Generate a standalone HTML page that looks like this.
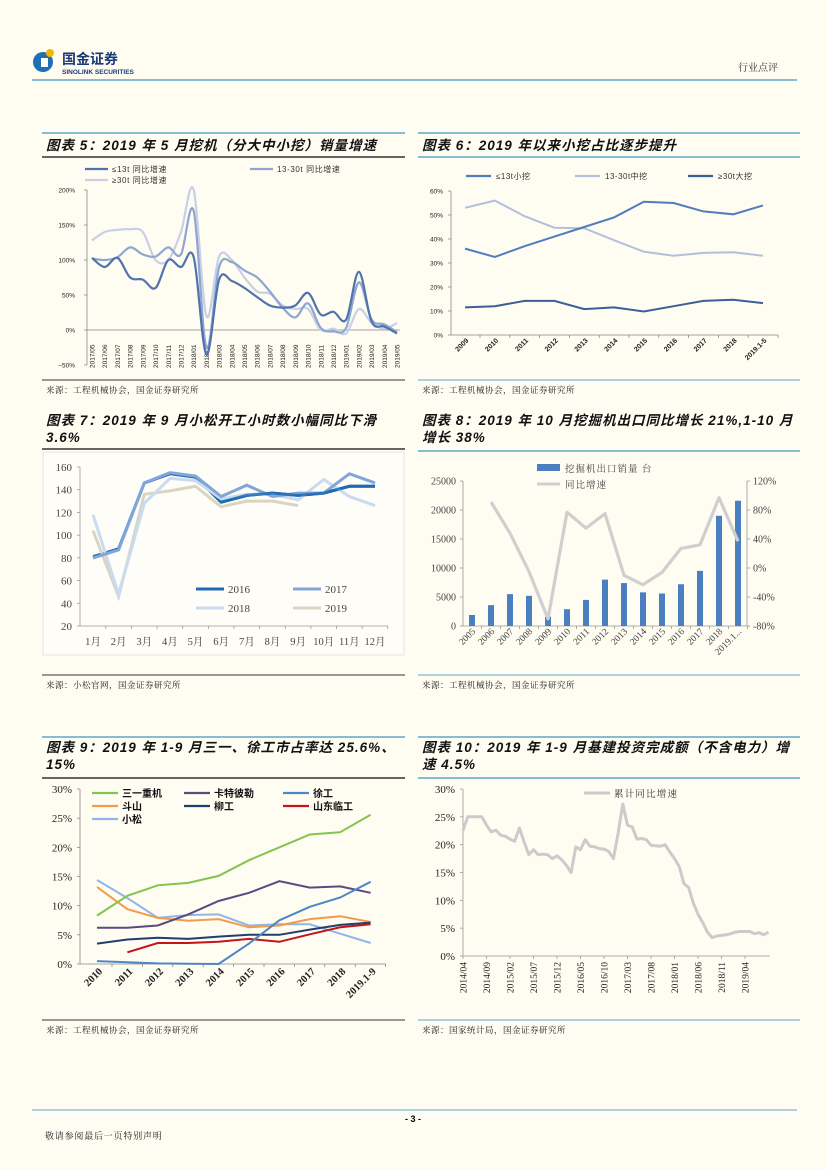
<!DOCTYPE html>
<html><head><meta charset="utf-8">
<style>
html,body{margin:0;padding:0;background:#fffcf2;}
#page{position:relative;width:827px;height:1170px;background:#fffcf2;overflow:hidden;}
svg{position:absolute;left:0;top:0;}
text{font-family:"Liberation Sans","Noto Sans CJK SC",sans-serif;}
.serif{font-family:"Liberation Serif","Noto Serif CJK SC",serif;}
.ttl{font-size:13.5px;font-weight:bold;font-style:italic;fill:#111;letter-spacing:1px;}
.src{font-size:8.5px;fill:#222;letter-spacing:0.5px;font-family:"Liberation Serif","Noto Serif CJK SC",serif;}
</style></head>
<body>
<div id="page">
<svg id="s" width="827" height="1170" viewBox="0 0 827 1170">
<g>
 <circle cx="43" cy="62" r="10" fill="#1f6fb5"/>
 <rect x="41" y="58" width="7" height="9" fill="#fff"/>
 <circle cx="50" cy="53" r="4" fill="#f5b800"/>
 <text x="62" y="64" font-size="14" font-weight="bold" fill="#1a3a78">国金证券</text>
 <text x="62" y="74" font-size="6.5" font-weight="bold" fill="#1a3a78">SINOLINK SECURITIES</text>
 <text x="738" y="71" font-size="10" fill="#333" class="serif">行业点评</text>
 <line x1="32" y1="80" x2="797" y2="80" stroke="#5aaac8" stroke-width="1.5"/>
</g>
<g>
 <line x1="32" y1="1110" x2="797" y2="1110" stroke="#5aaac8" stroke-width="1"/>
 <text x="413" y="1122" font-size="9" font-weight="bold" text-anchor="middle">- 3 -</text>
 <text x="45" y="1139" font-size="9" class="serif" fill="#222" letter-spacing="0.8">敬请参阅最后一页特别声明</text>
</g>
</svg>
</div>
<script>
// ---------- DATA ----------
const c5Cats=["2017/05","2017/06","2017/07","2017/08","2017/09","2017/10","2017/11","2017/12","2018/01","2018/02","2018/03","2018/04","2018/05","2018/06","2018/07","2018/08","2018/09","2018/10","2018/11","2018/12","2019/01","2019/02","2019/03","2019/04","2019/05"];
const c5Small=[103,90,103,75,72,60,100,90,104,-35,72,70,60,47,35,32,35,53,22,26,15,83,12,5,-5];
const c5Mid=[102,100,104,118,108,105,118,108,170,-25,90,97,85,75,55,32,18,38,3,-2,3,68,15,8,-3];
const c5Large=[128,140,143,144,140,100,100,140,200,20,105,100,75,55,52,35,30,30,0,2,-5,30,10,2,10];
const c5Ticks=[200,150,100,50,0,-50];

const c6Cats=["2009","2010","2011","2012","2013","2014","2015","2016","2017","2018","2019.1-5"];
const c6Small=[36,32.5,37,41,45,49,55.5,55,51.5,50.3,54];
const c6Mid=[53,56,49.5,44.7,44.5,39.5,34.7,33,34.2,34.5,33];
const c6Large=[11.5,12,14.2,14.2,10.8,11.5,9.8,12,14.2,14.7,13.3];
const c6Ticks=[0,10,20,30,40,50,60];

const c7Cats=["1月","2月","3月","4月","5月","6月","7月","8月","9月","10月","11月","12月"];
const c7Y2016=[81,88,146,154,151,129,135,137,135,137,143,143];
const c7Y2017=[80,87,146,155,152,134,144,134,137,137,154,146];
const c7Y2018=[118,48,128,150,148,132,136,136,131,149,134,126];
const c7Y2019=[104,46,136,139,143,125,130,130,126];
const c7Ticks=[20,40,60,80,100,120,140,160];

const c8Cats=["2005","2006","2007","2008","2009","2010","2011","2012","2013","2014","2015","2016","2017","2018","2019.1..."];
const c8Units=[1900,3600,5500,5200,1600,2900,4500,8000,7400,5800,5600,7200,9500,19000,21600];
const c8Growth=[null,91,48,-5,-70,77,55,75,-10,-23,-6,27,32,97,37];
const c8LeftTicks=[0,5000,10000,15000,20000,25000];
const c8RightTicks=[-80,-40,0,40,80,120];

const c9Cats=["2010","2011","2012","2013","2014","2015","2016","2017","2018","2019.1-9"];
const c9Sany=[8.3,11.7,13.5,13.9,15.1,17.8,20,22.2,22.6,25.6];
const c9Cat=[6.2,6.2,6.6,8.5,10.8,12.2,14.2,13.1,13.3,12.2];
const c9Xcmg=[0.5,0.3,0.1,0.05,0,3.5,7.5,9.8,11.4,14.1];
const c9Doosan=[13.2,9.4,7.9,7.4,7.7,6.3,6.6,7.7,8.2,7.2];
const c9Liugong=[3.5,4.2,4.5,4.3,4.7,5,5,5.9,6.7,7.1];
const c9Sdlg=[null,2,3.6,3.6,3.8,4.3,3.8,5.1,6.3,6.8];
const c9Komatsu=[14.4,11.3,7.9,8.4,8.5,6.6,6.8,6.8,5.2,3.6];
const c9Ticks=[0,5,10,15,20,25,30];

const c10Labels=["2014/04","2014/09","2015/02","2015/07","2015/12","2016/05","2016/10","2017/03","2017/08","2018/01","2018/06","2018/11","2019/04"];
const c10Values=[22.5,25,25,25,25,23.5,22.3,22.6,21.7,21.5,21,20.6,23,20.5,18.2,19.1,18.2,18.3,18.2,17.5,18.0,17.3,16.3,15,19.6,19.1,20.9,19.7,19.6,19.3,19.2,18.8,17.5,22,27.3,23.5,23.2,21,21.1,20.9,19.9,19.8,19.7,20,18.7,17.5,16.1,13,12.3,9.5,7.5,6,4.3,3.3,3.6,3.7,3.8,4.0,4.3,4.4,4.4,4.4,4.0,4.2,3.8,4.3];
const c10Ticks=[0,5,10,15,20,25,30];

// ---------- HELPERS ----------
const NS="http://www.w3.org/2000/svg";
const S=document.getElementById('s');
function mk(parent,tag,attrs,txt){const e=document.createElementNS(NS,tag);for(const k in attrs)e.setAttribute(k,attrs[k]);if(txt!==undefined)e.textContent=txt;parent.appendChild(e);return e;}
function grp(){return mk(S,'g',{});}
function pathFrom(vals,xf,yf){let d='',pen=false;vals.forEach((v,i)=>{if(v===null||v===undefined){pen=false;return;}d+=(pen?'L':'M')+xf(i).toFixed(1)+' '+yf(v).toFixed(1)+' ';pen=true;});return d;}
function smoothFrom(vals,xf,yf){const p=vals.map((v,i)=>[xf(i),yf(v)]);let d='M'+p[0][0]+' '+p[0][1];for(let i=0;i<p.length-1;i++){const p0=p[i-1]||p[i],p1=p[i],p2=p[i+1],p3=p[i+2]||p2;const c1x=p1[0]+(p2[0]-p0[0])/6,c1y=p1[1]+(p2[1]-p0[1])/6,c2x=p2[0]-(p3[0]-p1[0])/6,c2y=p2[1]-(p3[1]-p1[1])/6;d+=` C${c1x.toFixed(1)} ${c1y.toFixed(1)} ${c2x.toFixed(1)} ${c2y.toFixed(1)} ${p2[0].toFixed(1)} ${p2[1].toFixed(1)}`;}return d;}
function hl(g,x1,x2,y,c,w){return mk(g,'line',{x1:x1,x2:x2,y1:y,y2:y,stroke:c,'stroke-width':w});}
function panel(x1,x2,topY,lines,titleY,ruleY,ruleColor,srcY,srcLineColor,srcText,name){
  const g=grp();
  
  
  if(topY)hl(g,x1,x2,topY,'#5aaac8',1.5);
  lines.forEach((t,i)=>{const e=mk(g,'text',{x:x1+4,y:titleY+i*17,class:'ttl'},t);
    
    });
  hl(g,x1,x2,ruleY,ruleColor,1.5);
  hl(g,x1,x2,srcY,srcLineColor,1);
  const s=mk(g,'text',{x:x1+4,y:srcY+13,class:'src'},srcText);
  
  
  return g;
}

// ---------- PANELS ----------
panel(42,405,133,["图表 5：2019 年 5 月挖机（分大中小挖）销量增速"],150,157,'#333',380,'#333',"来源：工程机械协会，国金证券研究所",'panel-chart-5');
panel(418,800,133,["图表 6：2019 年以来小挖占比逐步提升"],150,157,'#5aaac8',380,'#5aaac8',"来源：工程机械协会，国金证券研究所",'panel-chart-6');
panel(42,405,0,["图表 7：2019 年 9 月小松开工小时数小幅同比下滑","3.6%"],425,449,'#333',675,'#333',"来源：小松官网，国金证券研究所",'panel-chart-7');
panel(418,800,0,["图表 8：2019 年 10 月挖掘机出口同比增长 21%,1-10 月","增长 38%"],425,451,'#5aaac8',675,'#5aaac8',"来源：工程机械协会，国金证券研究所",'panel-chart-8');
panel(42,405,737,["图表 9：2019 年 1-9 月三一、徐工市占率达 25.6%、","15%"],752,778,'#333',1020,'#333',"来源：工程机械协会，国金证券研究所",'panel-chart-9');
panel(418,800,737,["图表 10：2019 年 1-9 月基建投资完成额（不含电力）增","速 4.5%"],752,778,'#5aaac8',1020,'#5aaac8',"来源：国家统计局，国金证券研究所",'panel-chart-10');

// ---------- CHART 5 ----------
(function(){
 const g=grp();
 const x=i=>92+i*(397-92)/(c5Cats.length-1), y=v=>330-v*0.7;
 mk(g,'line',{x1:87,x2:87,y1:190,y2:365,stroke:'#888','stroke-width':0.8});
 mk(g,'line',{x1:87,x2:400,y1:y(0),y2:y(0),stroke:'#888','stroke-width':0.8});
 c5Ticks.forEach(t=>{const e=mk(g,'text',{x:75,y:y(t)+2.5,'font-size':6.5,'text-anchor':'end',fill:'#222'},(t<0?'−':'')+Math.abs(t)+'%');
  
  mk(g,'line',{x1:84,x2:87,y1:y(t),y2:y(t),stroke:'#888','stroke-width':0.8});});
 c5Cats.forEach((c,i)=>{const e=mk(g,'text',{transform:`translate(${x(i)+2.5},368) rotate(-90)`,'font-size':6.5,fill:'#222'},c);
  });
 const ser=[[c5Large,'#c7d1e6','series-30t-plus'],[c5Mid,'#8ea6d0','series-13-30t'],[c5Small,'#4f73ad','series-13t-under']];
 ser.forEach(s=>{const p=mk(g,'path',{d:smoothFrom(s[0],x,y),fill:'none',stroke:s[1],'stroke-width':2.2});
  });
 const leg=[[85,169,'#4f73ad','≤13t 同比增速'],[250,169,'#8ea6d0','13-30t 同比增速'],[85,180,'#c7d1e6','≥30t 同比增速']];
 leg.forEach(l=>{const lg=mk(g,'g',{});
  hl(lg,l[0],l[0]+23,l[1],l[2],2.2);mk(lg,'text',{x:l[0]+27,y:l[1]+3,'font-size':8,fill:'#333','letter-spacing':0.6},l[3]);});
})();

// ---------- CHART 6 ----------
(function(){
 const g=grp();
 const x=i=>465+i*29.8, y=v=>335-v*2.4;
 mk(g,'line',{x1:451,x2:451,y1:191,y2:335,stroke:'#888','stroke-width':0.8});
 mk(g,'line',{x1:451,x2:778,y1:335,y2:335,stroke:'#888','stroke-width':0.8});
 c6Ticks.forEach(t=>{const e=mk(g,'text',{x:443,y:y(t)+2.5,'font-size':6.5,'text-anchor':'end',fill:'#222'},t+'%');
  
  mk(g,'line',{x1:448,x2:451,y1:y(t),y2:y(t),stroke:'#888','stroke-width':0.8});});
 c6Cats.forEach((c,i)=>{mk(g,'line',{x1:x(i)+15,x2:x(i)+15,y1:335,y2:338,stroke:'#888','stroke-width':0.8});
  const e=mk(g,'text',{transform:`translate(${x(i)+4},341) rotate(-45)`,'font-size':7,'font-weight':'bold','text-anchor':'end',fill:'#222'},c);
  });
 const ser=[[c6Mid,'#b2c0da','series-13-30t-mid'],[c6Small,'#4f7dbd','series-13t-small'],[c6Large,'#3b5f99','series-30t-large']];
 ser.forEach(s=>{const p=mk(g,'path',{d:pathFrom(s[0],x,y),fill:'none',stroke:s[1],'stroke-width':2});
  });
 const leg=[[466,'#4f7dbd','≤13t小挖'],[575,'#b2c0da','13-30t中挖'],[688,'#3b5f99','≥30t大挖']];
 leg.forEach(l=>{const lg=mk(g,'g',{});
  hl(lg,l[0],l[0]+25,176,l[1],2.2);mk(lg,'text',{x:l[0]+30,y:179,'font-size':8,fill:'#333','letter-spacing':0.5},l[2]);});
})();

// ---------- CHART 7 ----------
(function(){
 const g=grp();
 mk(g,'rect',{x:43,y:452,width:361,height:203,fill:'#fffdf7',stroke:'#ddd','stroke-width':0.8});
 const x=i=>93+i*(375-93)/11, y=v=>626-(v-20)*(159/140);
 mk(g,'line',{x1:80,x2:80,y1:467,y2:626,stroke:'#999','stroke-width':0.8});
 mk(g,'line',{x1:80,x2:388,y1:626,y2:626,stroke:'#999','stroke-width':0.8});
 c7Ticks.forEach(t=>{const e=mk(g,'text',{x:72,y:y(t)+4,'font-size':11,'text-anchor':'end',fill:'#444',class:'serif'},t);
  
  mk(g,'line',{x1:77,x2:80,y1:y(t),y2:y(t),stroke:'#999','stroke-width':0.8});});
 c7Cats.forEach((c,i)=>{mk(g,'line',{x1:x(i)+12.8,x2:x(i)+12.8,y1:626,y2:629,stroke:'#999','stroke-width':0.8});
  const e=mk(g,'text',{x:x(i),y:645,'font-size':10.5,'text-anchor':'middle',fill:'#444',class:'serif'},c);
  });
 const p16=mk(g,'path',{d:pathFrom(c7Y2016,x,y),fill:'none',stroke:'#1f6bb5','stroke-width':3});
 
 [[c7Y2019,'#d9d5c3','series-2019'],[c7Y2018,'#c8dbf0','series-2018'],[c7Y2017,'#80a7d8','series-2017']].forEach(s=>{
  const p=mk(g,'path',{d:pathFrom(s[0],x,y),fill:'none',stroke:s[1],'stroke-width':3});
  });
 const tail=c7Y2016.map((v,i)=>i>=5?v:null);
 const pt=mk(g,'path',{d:pathFrom(tail,x,y),fill:'none',stroke:'#1f6bb5','stroke-width':3,opacity:0.85});
 
 const leg=[[196,589,'#1f6bb5','2016'],[293,589,'#80a7d8','2017'],[196,608,'#c8dbf0','2018'],[293,608,'#d9d5c3','2019']];
 leg.forEach(l=>{const lg=mk(g,'g',{});
  hl(lg,l[0],l[0]+28,l[1],l[2],3);mk(lg,'text',{x:l[0]+32,y:l[1]+4,'font-size':11,fill:'#444',class:'serif'},l[3]);});
})();

// ---------- CHART 8 ----------
(function(){
 const g=grp();
 const x=i=>472+i*(738-472)/14, yL=v=>626-v*(145/25000), yR=v=>626-(v+80)*(145/200);
 mk(g,'line',{x1:463,x2:463,y1:481,y2:626,stroke:'#999','stroke-width':0.8});
 mk(g,'line',{x1:747,x2:747,y1:481,y2:626,stroke:'#999','stroke-width':0.8});
 mk(g,'line',{x1:463,x2:747,y1:626,y2:626,stroke:'#999','stroke-width':0.8});
 c8LeftTicks.forEach(t=>{const e=mk(g,'text',{x:456,y:yL(t)+3.5,'font-size':10,'text-anchor':'end',fill:'#444',class:'serif'},t);
  
  mk(g,'line',{x1:460,x2:463,y1:yL(t),y2:yL(t),stroke:'#999','stroke-width':0.8});});
 c8RightTicks.forEach(t=>{const e=mk(g,'text',{x:753,y:yR(t)+3.5,'font-size':10,fill:'#444',class:'serif'},t+'%');
  
  mk(g,'line',{x1:747,x2:750,y1:yR(t),y2:yR(t),stroke:'#999','stroke-width':0.8});});
 c8Cats.forEach((c,i)=>{mk(g,'line',{x1:x(i)+9.5,x2:x(i)+9.5,y1:626,y2:629,stroke:'#999','stroke-width':0.8});
  const e=mk(g,'text',{transform:`translate(${x(i)+4},632) rotate(-45)`,'font-size':9.5,'text-anchor':'end',fill:'#444',class:'serif'},c);
  });
 c8Units.forEach((v,i)=>{const b=mk(g,'rect',{x:x(i)-3,y:yL(v),width:6,height:626-yL(v),fill:'#4a7fc1'});
  });
 const p=mk(g,'path',{d:pathFrom(c8Growth,x,yR),fill:'none',stroke:'#cfcfcf','stroke-width':3.2,'stroke-linejoin':'round'});
 
 const l1=mk(g,'g',{});
 mk(l1,'rect',{x:537,y:464,width:23,height:7,fill:'#4a7fc1'});mk(l1,'text',{x:565,y:472,'font-size':9.5,fill:'#444',class:'serif','letter-spacing':1},'挖掘机出口销量 台');
 const l2=mk(g,'g',{});
 hl(l2,537,560,484,'#cfcfcf',3);mk(l2,'text',{x:565,y:488,'font-size':9.5,fill:'#444',class:'serif','letter-spacing':1},'同比增速');
})();

// ---------- CHART 9 ----------
(function(){
 const g=grp();
 const x=i=>97+i*30.4, y=v=>964-v*(175/30);
 mk(g,'line',{x1:80,x2:80,y1:789,y2:964,stroke:'#888','stroke-width':0.8});
 mk(g,'line',{x1:80,x2:386,y1:964,y2:964,stroke:'#888','stroke-width':0.8});
 c9Ticks.forEach(t=>{const e=mk(g,'text',{x:72,y:y(t)+4,'font-size':11,'text-anchor':'end',fill:'#222',class:'serif'},t+'%');
  
  mk(g,'line',{x1:77,x2:80,y1:y(t),y2:y(t),stroke:'#888','stroke-width':0.8});});
 c9Cats.forEach((c,i)=>{mk(g,'line',{x1:x(i)+15,x2:x(i)+15,y1:964,y2:967,stroke:'#888','stroke-width':0.8});
  const e=mk(g,'text',{transform:`translate(${x(i)+6},972) rotate(-45)`,'font-size':10.5,'font-weight':'bold','text-anchor':'end',fill:'#222',class:'serif'},c);
  });
 const ser=[[c9Komatsu,'#8fb6e6','series-komatsu'],[c9Doosan,'#f39a4b','series-doosan'],[c9Cat,'#5b4a7e','series-caterpillar'],[c9Liugong,'#1f3f6e','series-liugong'],[c9Sdlg,'#c3141c','series-sdlg'],[c9Xcmg,'#4e86c6','series-xcmg'],[c9Sany,'#82c44e','series-sany']];
 ser.forEach(s=>{const p=mk(g,'path',{d:pathFrom(s[0],x,y),fill:'none',stroke:s[1],'stroke-width':2});
  });
 const leg=[[104,793,'#82c44e','三一重机'],[196,793,'#5b4a7e','卡特彼勒'],[295,793,'#4e86c6','徐工'],[104,806,'#f39a4b','斗山'],[196,806,'#1f3f6e','柳工'],[295,806,'#c3141c','山东临工'],[104,819,'#8fb6e6','小松']];
 leg.forEach(l=>{const lg=mk(g,'g',{});
  hl(lg,l[0]-12,l[0]+14,l[1],l[2],2.2);mk(lg,'text',{x:l[0]+18,y:l[1]+4,'font-size':10,'font-weight':'bold',fill:'#111'},l[3]);});
})();

// ---------- CHART 10 ----------
(function(){
 const g=grp();
 const x=i=>463+i*4.7, y=v=>956-v*(167/30);
 mk(g,'line',{x1:463,x2:463,y1:789,y2:956,stroke:'#999','stroke-width':0.8});
 mk(g,'line',{x1:463,x2:770,y1:956,y2:956,stroke:'#999','stroke-width':0.8});
 c10Ticks.forEach(t=>{const e=mk(g,'text',{x:455,y:y(t)+4,'font-size':11,'text-anchor':'end',fill:'#222',class:'serif'},t+'%');
  
  mk(g,'line',{x1:460,x2:463,y1:y(t),y2:y(t),stroke:'#999','stroke-width':0.8});});
 c10Labels.forEach((c,k)=>{const i=k*5;mk(g,'line',{x1:x(i),x2:x(i),y1:956,y2:959,stroke:'#999','stroke-width':0.8});
  const e=mk(g,'text',{transform:`translate(${x(i)+3.5},962) rotate(-90)`,'font-size':9.5,'text-anchor':'end',fill:'#222',class:'serif'},c);
  });
 const p=mk(g,'path',{d:pathFrom(c10Values,x,y),fill:'none',stroke:'#cbcbcb','stroke-width':3,'stroke-linejoin':'round'});
 
 const lg=mk(g,'g',{});
 hl(lg,584,610,793,'#cbcbcb',3);mk(lg,'text',{x:614,y:797,'font-size':9.5,fill:'#333',class:'serif','letter-spacing':1.2},'累计同比增速');
})();
</script>
</body></html>
